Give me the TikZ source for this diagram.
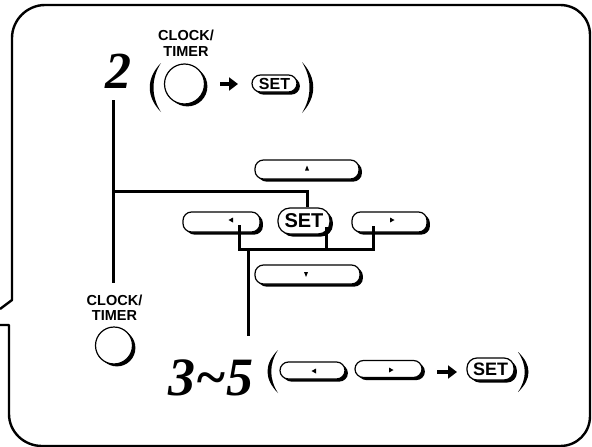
\documentclass[tikz,border=0pt]{standalone}
\usepackage{fontspec}
\setmainfont{Liberation Serif}
\newfontfamily\hv{Liberation Sans}
\usetikzlibrary{shadows,arrows.meta}
\begin{document}
\begin{tikzpicture}[x=1pt,y=-1pt,
  frame/.style={line width=2.4pt, line join=round},
  wire/.style={line width=3pt},
  btnbody/.style={draw, fill=white, line width=1.2pt, rounded corners=8.5pt, inner sep=0pt,
    drop shadow={shadow xshift=2.9pt, shadow yshift=-2.6pt, opacity=1, fill=black}},
  setbtn/.style={btnbody, font=\hv\bfseries\fontsize{#1}{#1}\selectfont},
  circbtn/.style={circle, draw, fill=white, line width=1.2pt, inner sep=0pt,
    drop shadow={shadow xshift=2.9pt, shadow yshift=-2.4pt, opacity=1, fill=black}},
  lbl/.style={font=\hv\bfseries\fontsize{14.5}{15.5}\selectfont, align=center, inner sep=0pt},
  num/.style={font=\bfseries\itshape\fontsize{#1}{#1}\selectfont, inner sep=0pt, anchor=base},
  bigarrow/.style={line width=3.6pt, -{Triangle[length=9pt,width=13pt]}}
]
\useasboundingbox (0,0) rectangle (592,447);

% callout frame
\draw[frame] (0,309) -- (12,300) -- (12,38) .. controls (12,20) and (27,5) .. (45,5)
  -- (560,5) .. controls (577,5) and (590,18) .. (590,35)
  -- (590,416) .. controls (590,433) and (577,446) .. (560,446)
  -- (42,446) .. controls (24,446) and (9,432) .. (9,414) -- (9,325) -- (0,325);

% ---- step 2 row
\node[num=52] (two) at (118.5,88) {2};
\node[lbl] (lblA) at (186,43) {CLOCK/\\TIMER};
\node[circbtn, minimum size=40pt] (ctA) at (184.5,84) {};
\node[setbtn=16, minimum width=45pt, minimum height=17pt] (setA) at (274.5,83.5) {SET};
\fill (161,63) .. controls (146,78) and (146,97) .. (161,112) .. controls (151,97) and (151,78) .. (161,63);
\fill (302,62) .. controls (317,78) and (317,97) .. (302,113) .. controls (312,97) and (312,78) .. (302,62);
\coordinate (aA1) at (220,84);
\coordinate (aA2) at (238,84);
\draw[bigarrow] (aA1) -- (aA2);

% ---- cursor pad
\node[btnbody, minimum width=104pt, minimum height=19pt] (up) at (307,169.5) {};
\node[btnbody, minimum width=77pt, minimum height=20pt] (lt) at (221.5,222) {};
\node[setbtn=20, minimum width=52pt, minimum height=26pt, rounded corners=12pt] (setB) at (304,221) {SET};
\node[btnbody, minimum width=75pt, minimum height=20pt] (rt) at (389.5,222) {};
\node[btnbody, minimum width=105pt, minimum height=19pt] (dn) at (307.5,274.5) {};
\fill (305,170.5) -- (309,170.5) -- (307,165.5) -- cycle;
\fill (233,217.5) -- (233,222.5) -- (228.5,220) -- cycle;
\fill (390,217.5) -- (390,222.5) -- (394.5,220) -- cycle;
\fill (304,272) -- (308,272) -- (306,277) -- cycle;

% ---- bottom CLOCK/TIMER
\node[lbl] (lblB) at (114.5,307.5) {CLOCK/\\TIMER};
\node[circbtn, minimum size=37pt] (ctB) at (114,345.5) {};

% ---- step 3~5 row
\node[num=54] (three) at (211,395) {3\textasciitilde5};
\fill (278,350) .. controls (264,364) and (264,379) .. (278,393) .. controls (269,379) and (269,364) .. (278,350);
\fill (518,352) .. controls (532,365) and (532,379) .. (518,392) .. controls (527,379) and (527,365) .. (518,352);
\node[btnbody, minimum width=65pt, minimum height=17pt] (blt) at (312.5,370.5) {};
\node[btnbody, minimum width=67pt, minimum height=17pt] (brt) at (388.5,369) {};
\fill (316,368.5) -- (316,373.5) -- (311.5,371) -- cycle;
\fill (389,367.5) -- (389,372.5) -- (393.5,370) -- cycle;
\node[setbtn=18, minimum width=47pt, minimum height=22pt, rounded corners=10pt] (setC) at (490.5,369) {SET};
\coordinate (aB1) at (437,372);
\coordinate (aB2) at (457,372);
\draw[bigarrow] (aB1) -- (aB2);

% ---- connectors
\coordinate (s2top) at (113,100);
\coordinate (s2bot) at (113,283);
\draw[wire] (s2top) -- (s2bot);
\coordinate (j1) at (113,191);
\draw[wire] (j1) -| ([xshift=3pt]setB.north);
\coordinate (bus) at (248,249);
\coordinate (stem) at (248,336);
\coordinate (ltp) at ([xshift=17.5pt,yshift=-3pt]lt.center);
\coordinate (rtp) at ([xshift=-16.5pt,yshift=-4pt]rt.center);
\coordinate (stp) at ([xshift=22pt,yshift=-6pt]setB.center);
\draw[wire] (ltp) -- (ltp |- bus) -- (rtp |- bus) -- (rtp);
\draw[wire] (stp) -- (stp |- bus);
\draw[wire] (bus) -- (stem);
\end{tikzpicture}
\end{document}
